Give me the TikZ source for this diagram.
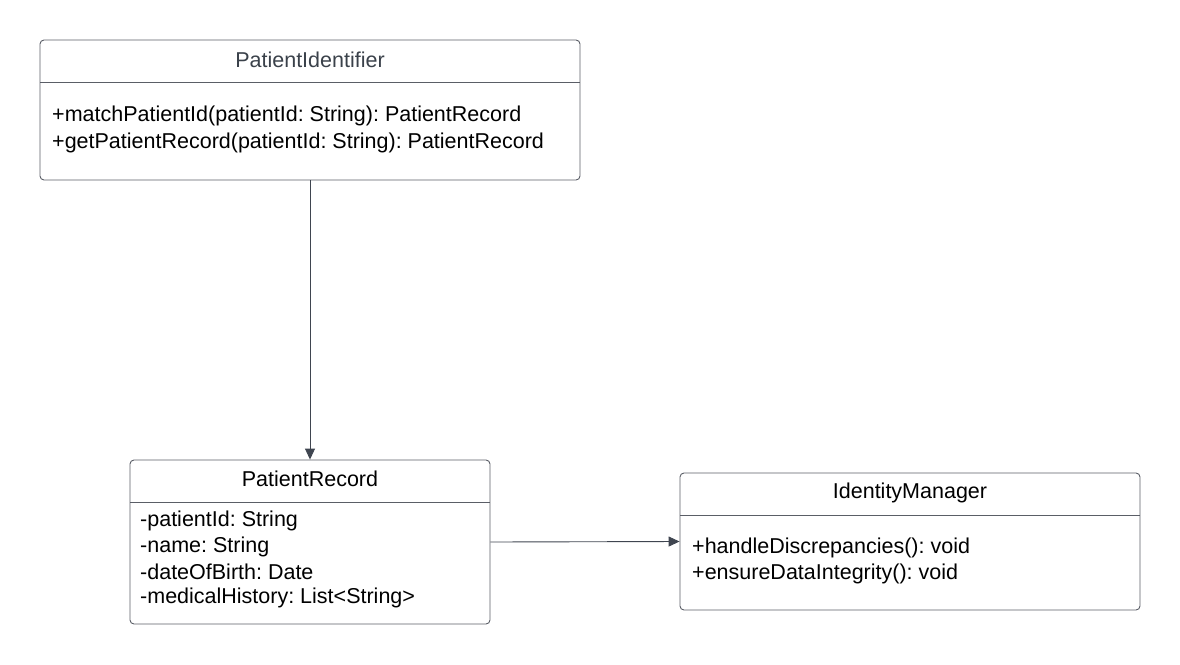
\documentclass[tikz,border=0pt]{standalone}
\usepackage{fontspec}
\setmainfont{Liberation Sans}
\usetikzlibrary{arrows.meta}
\definecolor{edge}{HTML}{5A5E66}
\definecolor{arrowc}{HTML}{3F4550}
\definecolor{titlec}{HTML}{3A414A}
\frenchspacing
\begin{document}
\frenchspacing
\begin{tikzpicture}[x=1pt,y=-1pt,
  classbox/.style={draw=edge,line width=0.9pt,rounded corners=4pt,rectangle,inner sep=0pt},
  divider/.style={draw=edge,line width=0.9pt},
  title/.style={font=\fontsize{21.5}{26}\selectfont,anchor=center,inner sep=0pt},
  member/.style={font=\fontsize{21.5}{26}\selectfont,anchor=west,inner sep=0pt,align=left},
  conn/.style={draw=arrowc,line width=0.9pt,-{Triangle[length=11pt,width=10pt]}}]
\useasboundingbox (0,0) rectangle (1180,664);
% PatientIdentifier
\node[classbox,minimum width=540pt,minimum height=140pt] (b1) at (310,110) {};
\draw[divider] (40,82) -- (580,82);
\node[title,text=titlec] (t1) at (310,60) {PatientIdentifier};
\node[member] (m1a) at (52,116) {+matchPatientId(patientId: String): PatientRecord};
\node[member] (m1b) at (52,143) {+getPatientRecord(patientId: String): PatientRecord};
% PatientRecord
\node[classbox,minimum width=360pt,minimum height=164pt] (b2) at (310,542) {};
\draw[divider] (130,502) -- (490,502);
\node[title] (t2) at (310,479) {PatientRecord};
\node[member] (m2a) at (140,521) {-patientId: String};
\node[member] (m2b) at (140,547) {-name: String};
\node[member] (m2c) at (140,572) {-dateOfBirth: Date};
\node[member] (m2d) at (140,598) {-medicalHistory: List<String>};
% IdentityManager
\node[classbox,minimum width=460pt,minimum height=137pt] (b3) at (910,541.5) {};
\draw[divider] (680,515) -- (1140,515);
\node[title] (t3) at (910,493) {IdentityManager};
\node[member] (m3a) at (692,548) {+handleDiscrepancies(): void};
\node[member] (m3b) at (692,574) {+ensureDataIntegrity(): void};
% connectors
\draw[conn] (b1.south) -- (b2.north);
\draw[conn] (b2.east) -- (b3.west);
\end{tikzpicture}
\end{document}
